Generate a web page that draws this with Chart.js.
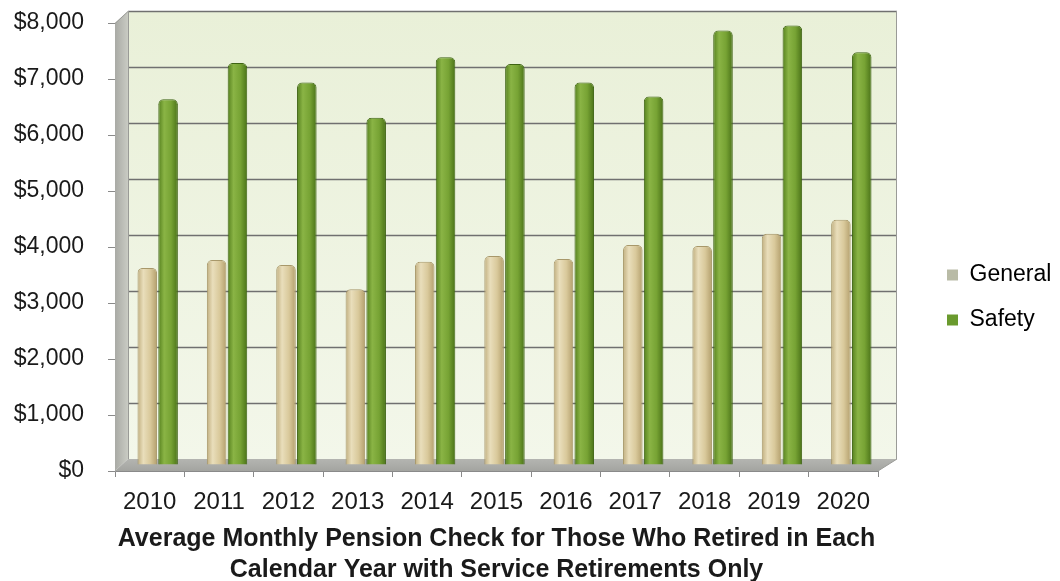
<!DOCTYPE html>
<html>
<head>
<meta charset="utf-8">
<script src="https://cdn.jsdelivr.net/npm/chart.js@4.4.1/dist/chart.umd.min.js"></script>
<style>
  html, body { margin: 0; padding: 0; background: #ffffff; }
  #wrap { width: 1060px; height: 581px; }
</style>
</head>
<body>
<div id="wrap"><canvas id="c" width="1060" height="581"></canvas></div>
<script>
const categories = ['2010','2011','2012','2013','2014','2015','2016','2017','2018','2019','2020'];
const generalValues = [3520, 3660, 3570, 3140, 3630, 3730, 3680, 3930, 3910, 4130, 4380];
const safetyValues  = [6530, 7180, 6830, 6200, 7280, 7160, 6830, 6580, 7760, 7850, 7370];
const seriesNames = ['General', 'Safety'];
const yTicks = [0, 1000, 2000, 3000, 4000, 5000, 6000, 7000, 8000];
const titleLines = ['Average Monthly Pension Check for Those Who Retired in Each', 'Calendar Year with Service Retirements Only'];

const FONT = "'Liberation Sans', Arial, Helvetica, sans-serif";
const DEPTH_X = 13, DEPTH_Y = -12;       // back wall offset
const BAR_DX = 8, BAR_DY = -6;           // bars sit mid-depth
const CAT_PCT = 0.6, BAR_PCT = 0.94;

const legendColors = ['#b9bba6', '#6a9a2e'];
const gradStops = [
  [[0,'#c0ae7e'],[0.3,'#e9debb'],[0.65,'#d9c99b'],[1,'#b39f6d']],
  [[0,'#55801e'],[0.3,'#8ab445'],[0.65,'#77a334'],[1,'#4a7218']]
];

function barFill(dsIndex) {
  return function(ctx) {
    const chart = ctx.chart;
    const xs = chart.scales.x;
    if (!xs || ctx.dataIndex === undefined) return legendColors[dsIndex];
    const cw = xs.width / categories.length;
    const center = xs.getPixelForValue(ctx.dataIndex) + (dsIndex === 0 ? -1 : 1) * CAT_PCT * cw / 4;
    const w = BAR_PCT * CAT_PCT * cw / 2;
    const g = chart.ctx.createLinearGradient(center - w / 2, 0, center + w / 2, 0);
    gradStops[dsIndex].forEach(s => g.addColorStop(s[0], s[1]));
    return g;
  };
}

const scenePlugin = {
  id: 'scene',
  beforeDatasetsDraw(chart) {
    const {ctx, chartArea: a, scales: {y}} = chart;
    const y0 = y.getPixelForValue(0), yTop = y.getPixelForValue(yTicks[yTicks.length - 1]);
    ctx.save();
    // back wall
    const bg = ctx.createLinearGradient(0, yTop + DEPTH_Y, 0, y0 + DEPTH_Y);
    bg.addColorStop(0, '#e9f0d8');
    bg.addColorStop(1, '#f3f7ea');
    ctx.fillStyle = bg;
    ctx.fillRect(a.left + DEPTH_X, yTop + DEPTH_Y, a.right - a.left + 19 - DEPTH_X, y0 - yTop);
    // left side wall
    const sg = ctx.createLinearGradient(a.left, 0, a.left + DEPTH_X, 0);
    sg.addColorStop(0, '#a9aaa5');
    sg.addColorStop(1, '#c9cbc3');
    ctx.fillStyle = sg;
    ctx.beginPath();
    ctx.moveTo(a.left, yTop);
    ctx.lineTo(a.left + DEPTH_X, yTop + DEPTH_Y);
    ctx.lineTo(a.left + DEPTH_X, y0 + DEPTH_Y);
    ctx.lineTo(a.left, y0);
    ctx.closePath();
    ctx.fill();
    // floor
    const fg = ctx.createLinearGradient(0, y0 + DEPTH_Y, 0, y0);
    fg.addColorStop(0, '#b4b5b1');
    fg.addColorStop(1, '#a3a4a0');
    ctx.fillStyle = fg;
    ctx.beginPath();
    ctx.moveTo(a.left, y0);
    ctx.lineTo(a.left + DEPTH_X, y0 + DEPTH_Y);
    ctx.lineTo(a.right + 19, y0 + DEPTH_Y);
    ctx.lineTo(a.right, y0);
    ctx.closePath();
    ctx.fill();
    // back wall grid lines
    ctx.strokeStyle = '#707070';
    ctx.lineWidth = 1.3;
    yTicks.forEach(v => {
      if (v === 0) return;
      const py = Math.round(y.getPixelForValue(v) + DEPTH_Y) + 0.5;
      ctx.beginPath();
      ctx.moveTo(a.left + DEPTH_X, py);
      ctx.lineTo(a.right + 19, py);
      ctx.stroke();
    });
    // edges
    ctx.strokeStyle = '#9a9b97';
    ctx.lineWidth = 1;
    ctx.beginPath();
    ctx.moveTo(a.left, yTop + 0.5);
    ctx.lineTo(a.left + DEPTH_X, yTop + DEPTH_Y + 0.5);
    ctx.moveTo(a.left + DEPTH_X + 0.5, yTop + DEPTH_Y);
    ctx.lineTo(a.left + DEPTH_X + 0.5, y0 + DEPTH_Y);
    ctx.moveTo(a.right, y0);
    ctx.lineTo(a.right + 19, y0 + DEPTH_Y);
    ctx.moveTo(a.right + 19 - 0.5, y0 + DEPTH_Y);
    ctx.lineTo(a.right + 19 - 0.5, yTop + DEPTH_Y);
    ctx.stroke();
    // shift bars to mid depth
    ctx.restore();
    ctx.save();
    ctx.translate(BAR_DX, BAR_DY);
  },
  afterDatasetsDraw(chart) {
    chart.ctx.restore();
  }
};

new Chart(document.getElementById('c'), {
  type: 'bar',
  data: {
    labels: categories,
    datasets: [
      { label: seriesNames[0], data: generalValues, backgroundColor: barFill(0),
        borderColor: '#a8986a', borderWidth: 1, borderSkipped: 'bottom',
        borderRadius: {topLeft: 5, topRight: 5, bottomLeft: 0, bottomRight: 0},
        categoryPercentage: CAT_PCT, barPercentage: BAR_PCT },
      { label: seriesNames[1], data: safetyValues, backgroundColor: barFill(1),
        borderColor: '#3f6414', borderWidth: 1, borderSkipped: 'bottom',
        borderRadius: {topLeft: 5, topRight: 5, bottomLeft: 0, bottomRight: 0},
        categoryPercentage: CAT_PCT, barPercentage: BAR_PCT }
    ]
  },
  options: {
    responsive: false,
    animation: false,
    devicePixelRatio: 1,
    layout: { padding: { top: 9, left: 0, right: 0, bottom: -5 } },
    plugins: {
      tooltip: { enabled: false },
      title: { display: false },
      legend: {
        position: 'right',
        maxWidth: 135,
        labels: {
          boxWidth: 11, boxHeight: 11, padding: 22,
          color: '#1a1a1a',
          font: { family: FONT, size: 23 },
          generateLabels: (chart) => chart.data.datasets.map((ds, i) => ({
            text: ds.label, fillStyle: legendColors[i], strokeStyle: legendColors[i],
            lineWidth: 0, hidden: false, datasetIndex: i
          }))
        }
      }
    },
    scales: {
      x: {
        grid: { drawOnChartArea: false, drawTicks: true, tickLength: 6, color: '#8a8a8a', offset: true },
        border: { display: true, color: '#8a8a8a' },
        ticks: { color: '#1a1a1a', font: { family: FONT, size: 24 }, padding: 11, maxRotation: 0 },
        title: { display: true, text: titleLines, color: '#1a1a1a',
                 font: { family: FONT, size: 25, weight: 'bold', lineHeight: 1.24 },
                 padding: { top: 0, bottom: 0 } },
        afterFit: (s) => { s.height = 115; }
      },
      y: {
        min: 0, max: 8000,
        afterBuildTicks: (s) => { s.ticks = yTicks.map(v => ({ value: v })); },
        grid: { drawOnChartArea: false, drawTicks: true, tickLength: 7, color: '#8a8a8a' },
        border: { display: true, color: '#9a9a9a' },
        ticks: { color: '#1a1a1a', font: { family: FONT, size: 23 }, padding: 24,
                 callback: (v) => '$' + Number(v).toLocaleString('en-US') },
        afterFit: (s) => { s.width = 115; s.paddingTop = 23; s.paddingBottom = 0; }
      },
      spacer: {
        position: 'right', display: true,
        grid: { display: false }, border: { display: false },
        ticks: { display: false },
        afterFit: (s) => { s.width = 47; s.paddingTop = 0; s.paddingBottom = 0; }
      }
    }
  },
  plugins: [scenePlugin]
});
</script>
</body>
</html>
